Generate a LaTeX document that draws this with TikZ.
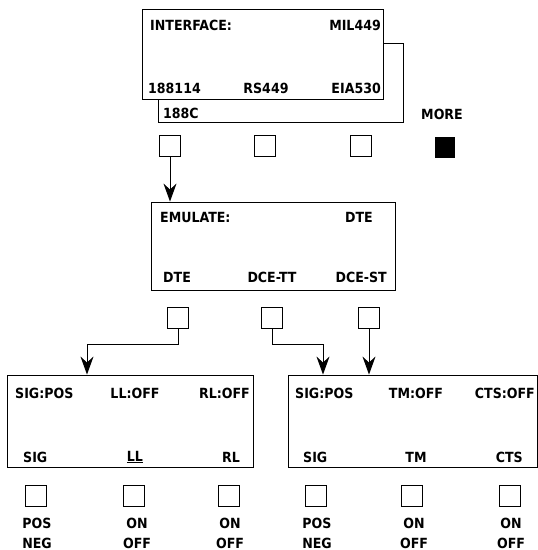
\documentclass[tikz,border=0pt]{standalone}
\usepackage{fontspec}
\setmainfont{DejaVu Sans Condensed}
\usetikzlibrary{arrows.meta}
\begin{document}
\begin{tikzpicture}[x=1pt,y=-1pt,
  panel/.style={draw,line width=0.9pt,fill=white,rectangle,inner sep=0pt},
  btn/.style={draw,line width=0.9pt,rectangle,minimum width=21pt,minimum height=21pt,inner sep=0pt},
  txt/.style={font=\bfseries\fontsize{14}{15}\selectfont,inner sep=0pt},
  lbl/.style={font=\bfseries\fontsize{14}{20}\selectfont,inner sep=0pt,align=center},
  arr/.style={line width=0.9pt,-{Stealth[length=18pt,width=13pt,inset=6pt]}}]
\useasboundingbox (0,0) rectangle (538,550);
% top panel with back panel
\node[panel,minimum width=245pt,minimum height=79pt] (back) at (280.5,82.5) {};
\node[panel,minimum width=241pt,minimum height=90pt] (top) at (262.5,54) {};
\node[txt,anchor=west] (t188c) at (163,113) {188C};
\node[txt,anchor=west] (tif) at (150,25) {INTERFACE:};
\node[txt,anchor=east] (tmil) at (381,25) {MIL449};
\node[txt,anchor=west] (t188) at (148,88) {188114};
\node[txt] (trs) at (266,88) {RS449};
\node[txt,anchor=east] (teia) at (381,88) {EIA530};
\node[txt] (tmore) at (442,114) {MORE};
\node[btn] (a1) at (170,146) {};
\node[btn] (a2) at (265,146) {};
\node[btn] (a3) at (361,146) {};
\node[btn,fill=black,minimum width=19pt,minimum height=20pt] (a4) at (445,147) {};
% emulate panel
\node[panel,minimum width=244pt,minimum height=88pt] (emu) at (273,246) {};
\node[txt,anchor=west] (eem) at (160,217) {EMULATE:};
\node[txt,anchor=east] (edte) at (373,217) {DTE};
\node[txt,anchor=west] (edte2) at (163,277) {DTE};
\node[txt] (ett) at (272,277) {DCE-TT};
\node[txt,anchor=east] (est) at (387,277) {DCE-ST};
\node[btn] (e1) at (178,318) {};
\node[btn] (e2) at (272,318) {};
\node[btn] (e3) at (369,318) {};
% bottom left panel
\node[panel,minimum width=246pt,minimum height=92pt] (lb) at (130,421) {};
\node[txt,anchor=west] (l1) at (15,393) {SIG:POS};
\node[txt] (l2) at (135,393) {LL:OFF};
\node[txt,anchor=east] (l3) at (250,393) {RL:OFF};
\node[txt,anchor=west] (l4) at (23,457) {SIG};
\node[txt] (l5) at (135,457) {\underline{LL}};
\node[txt,anchor=east] (l6) at (240,457) {RL};
\node[btn] (f1) at (36,496) {};
\node[btn] (f2) at (134,496) {};
\node[btn] (f3) at (229,496) {};
\node[lbl] (g1) at (37,533) {POS\\NEG};
\node[lbl] (g2) at (137,533) {ON\\OFF};
\node[lbl] (g3) at (230,533) {ON\\OFF};
% bottom right panel
\node[panel,minimum width=249pt,minimum height=92pt] (rb) at (412.5,421) {};
\node[txt,anchor=west] (r1) at (295,393) {SIG:POS};
\node[txt] (r2) at (416,393) {TM:OFF};
\node[txt,anchor=east] (r3) at (535,393) {CTS:OFF};
\node[txt,anchor=west] (r4) at (303,457) {SIG};
\node[txt] (r5) at (416,457) {TM};
\node[txt,anchor=east] (r6) at (523,457) {CTS};
\node[btn] (h1) at (316,496) {};
\node[btn] (h2) at (412,496) {};
\node[btn] (h3) at (510,496) {};
\node[lbl] (k1) at (317,533) {POS\\NEG};
\node[lbl] (k2) at (414,533) {ON\\OFF};
\node[lbl] (k3) at (511,533) {ON\\OFF};
% connectors
\coordinate (j1) at (87,344);
\coordinate (j2) at (323,344);
\draw[arr] (a1.south) -- (emu.north -| a1.south);
\draw[arr] (e1.south) |- (j1) -- (lb.north -| j1);
\draw[arr] (e2.south) |- (j2) -- (rb.north -| j2);
\draw[arr] (e3.south) -- (rb.north -| e3.south);
\end{tikzpicture}
\end{document}
